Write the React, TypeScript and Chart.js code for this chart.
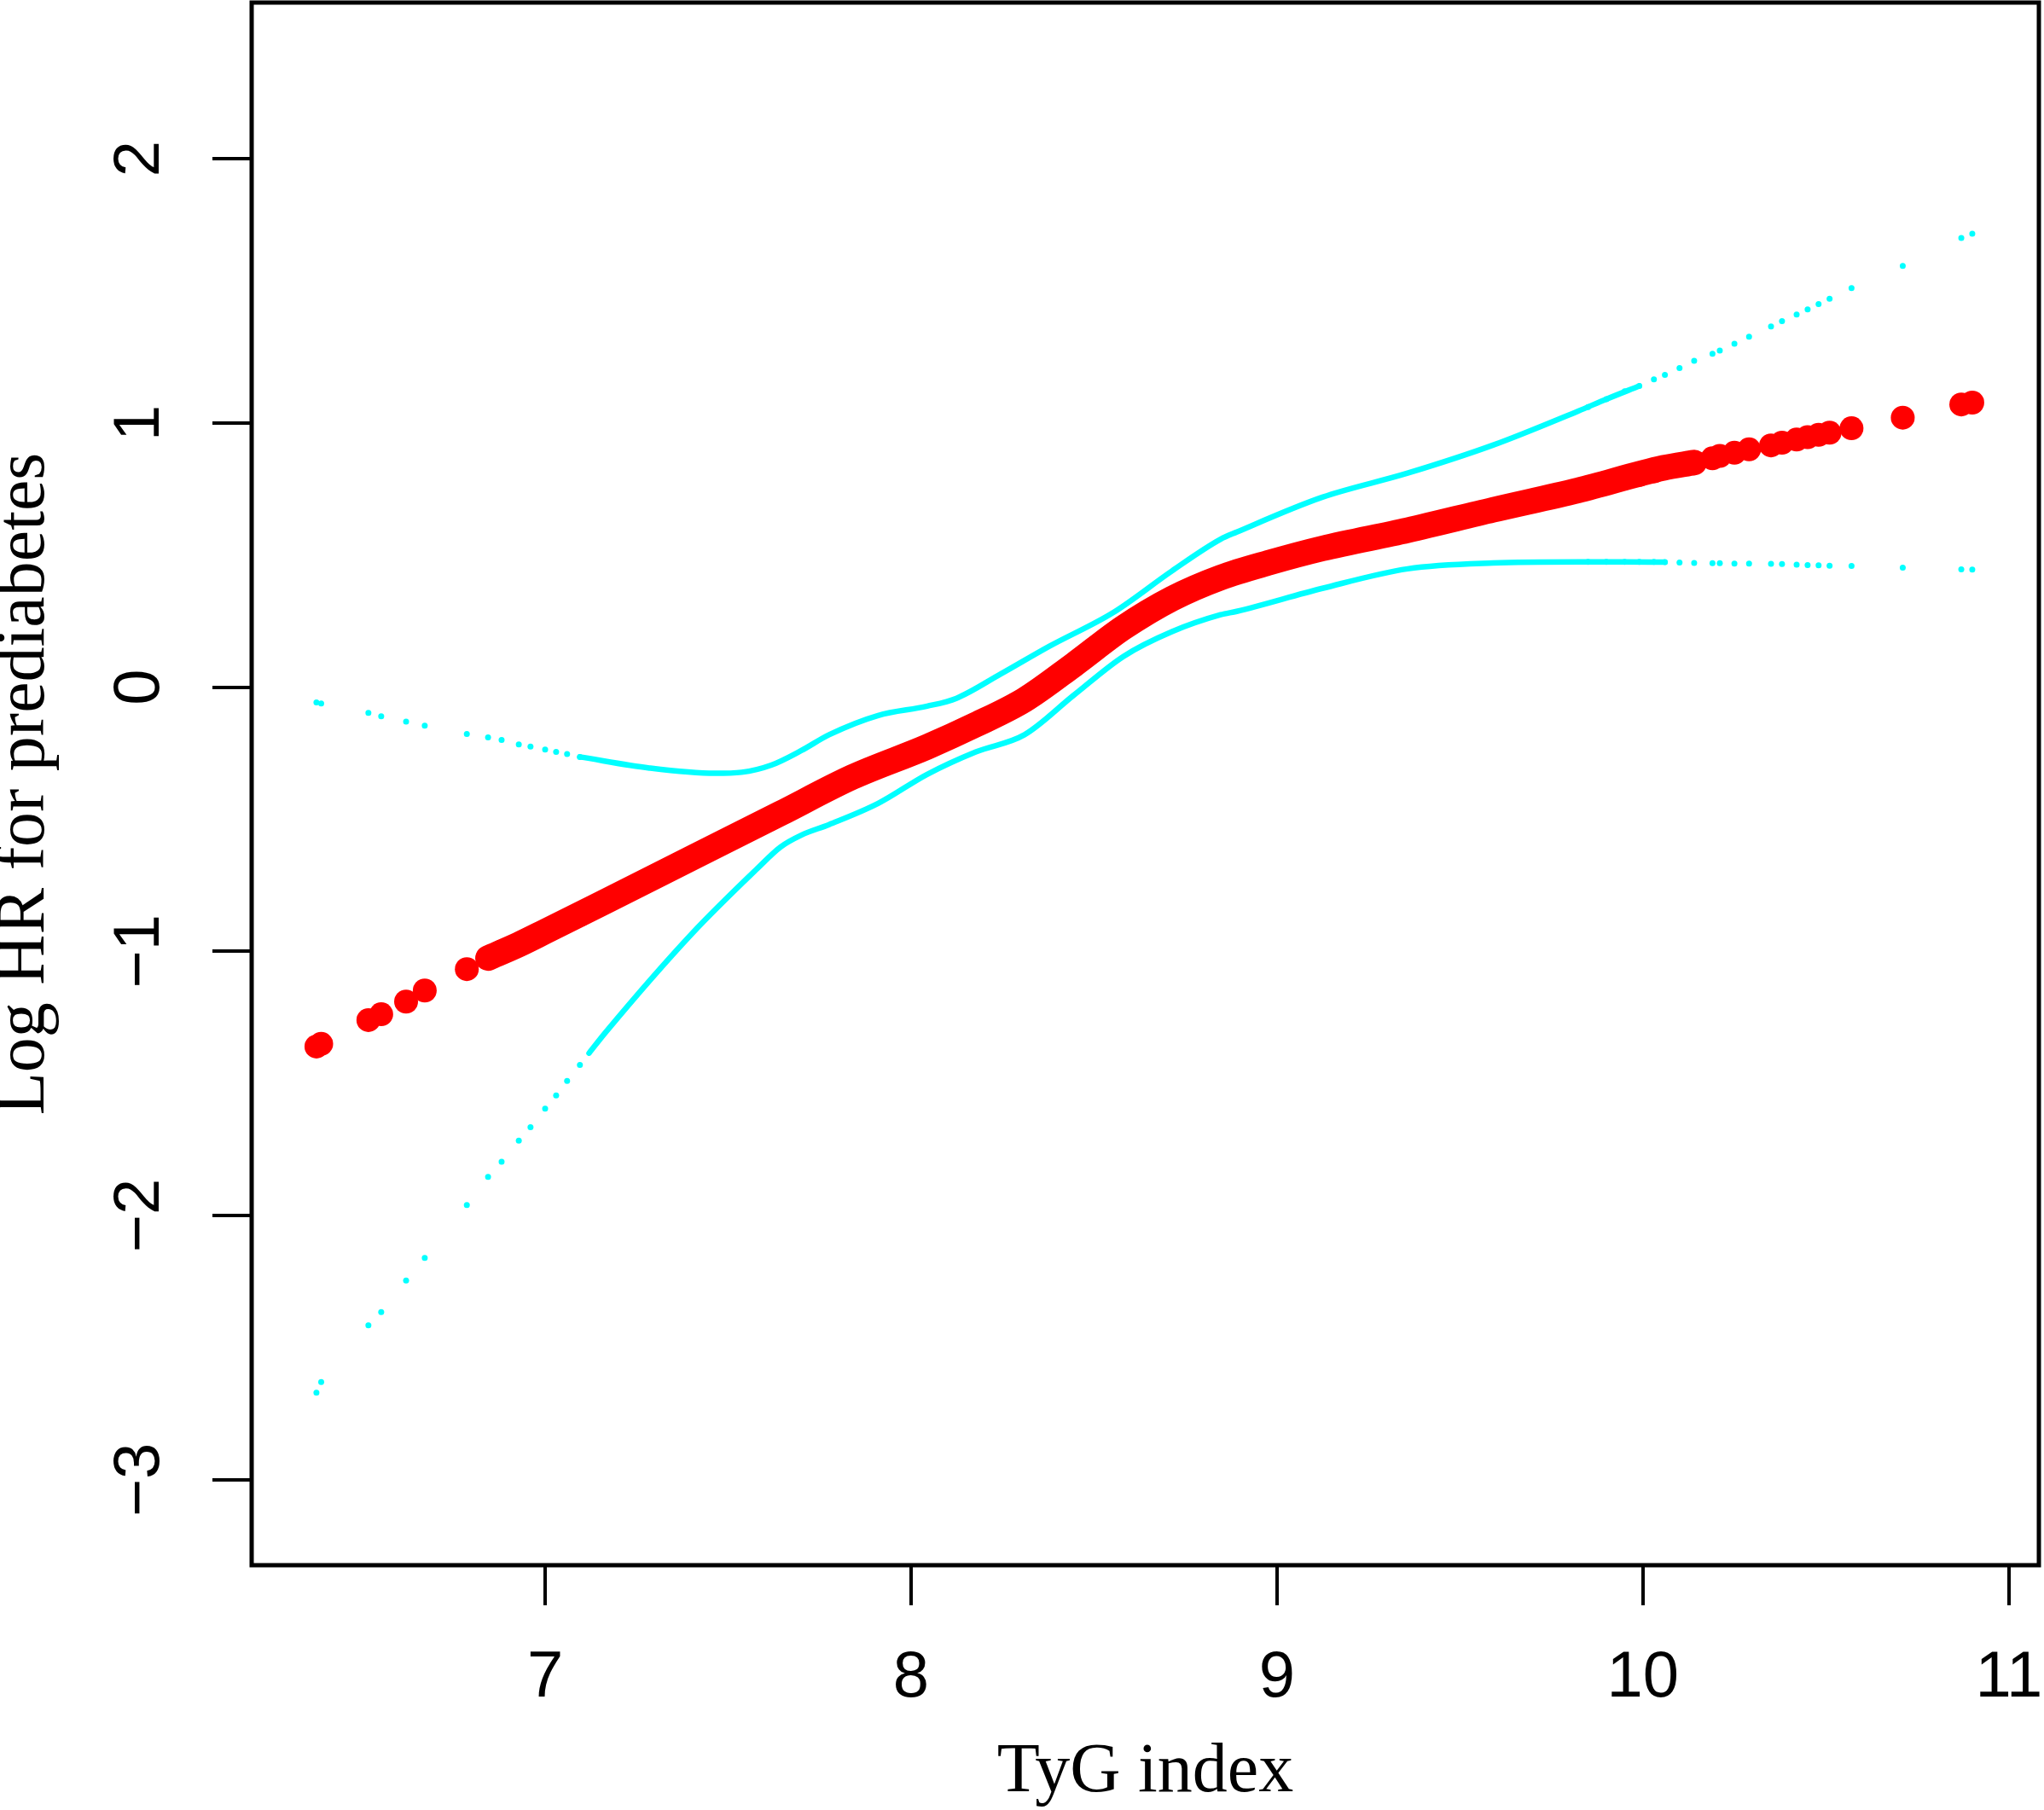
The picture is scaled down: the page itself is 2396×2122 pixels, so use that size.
import React, { useEffect, useRef } from 'react';
import { Chart, registerables } from 'chart.js';

Chart.register(...registerables);

const W = 2396;
const H = 2122;

// Axis ranges and tick labels
const xRange = [6.198, 11.082];
const yRange = [-3.323, 2.591];
const xTicks = [7, 8, 9, 10, 11];
const yTicks = [-3, -2, -1, 0, 1, 2];

const xTitle = 'TyG index';
const yTitle = 'Log HR for prediabetes';

// Dense part of the fitted log HR curve (TyG, log HR)
const hrCurveX = [6.844, 6.928, 7.0, 7.166, 7.403, 7.643, 7.84, 8.044, 8.177, 8.31, 8.445, 8.58, 8.713, 8.846, 8.98, 9.124, 9.357, 9.59, 9.823, 10.056, 10.14];
const hrCurveY = [-1.025, -0.974, -0.925, -0.81, -0.645, -0.478, -0.34, -0.226, -0.142, -0.048, 0.085, 0.225, 0.335, 0.415, 0.472, 0.525, 0.594, 0.671, 0.745, 0.83, 0.85];

// Dense part of the upper 95% CI
const upperCurveX = [7.095, 7.285, 7.464, 7.537, 7.618, 7.7, 7.776, 7.91, 8.044, 8.124, 8.245, 8.378, 8.553, 8.713, 8.846, 8.89, 9.124, 9.357, 9.59, 9.823, 9.9, 9.99];
const upperCurveY = [-0.264, -0.306, -0.326, -0.322, -0.295, -0.24, -0.18, -0.107, -0.072, -0.042, 0.05, 0.155, 0.283, 0.44, 0.56, 0.587, 0.719, 0.81, 0.916, 1.045, 1.09, 1.14];

// Dense part of the lower 95% CI
const lowerCurveX = [7.12, 7.166, 7.403, 7.58, 7.643, 7.7, 7.776, 7.91, 8.044, 8.177, 8.31, 8.445, 8.58, 8.713, 8.846, 8.89, 9.124, 9.357, 9.59, 9.823, 9.95, 10.06];
const lowerCurveY = [-1.385, -1.305, -0.93, -0.686, -0.605, -0.56, -0.52, -0.44, -0.33, -0.245, -0.18, -0.03, 0.116, 0.21, 0.274, 0.287, 0.374, 0.448, 0.47, 0.474, 0.474, 0.473];

// Sparse observations at the tails (shared TyG values)
const tygSparse = [6.375, 6.388, 6.517, 6.552, 6.62, 6.671, 6.786, 6.844, 6.881, 6.928, 6.96, 7.0, 7.03, 7.06, 7.095,
  9.85, 9.9, 9.95, 9.99, 10.03, 10.06, 10.1, 10.14, 10.19, 10.21, 10.25, 10.29, 10.35, 10.38, 10.42, 10.45, 10.48, 10.51, 10.57, 10.71, 10.87, 10.9];
const hrSparse = [-1.36, -1.35, -1.26, -1.238, -1.19, -1.148, -1.067, -1.025, -1.0, -0.974, -0.952, -0.925, -0.905, -0.884, -0.862,
  0.756, 0.773, 0.79, 0.803, 0.817, 0.83, 0.84, 0.85, 0.866, 0.875, 0.887, 0.9, 0.915, 0.925, 0.937, 0.946, 0.955, 0.963, 0.98, 1.02, 1.07, 1.077];
const upperSparse = [-0.058, -0.062, -0.097, -0.11, -0.13, -0.146, -0.177, -0.19, -0.2, -0.217, -0.225, -0.236, -0.245, -0.253, -0.264,
  1.06, 1.09, 1.12, 1.14, 1.165, 1.182, 1.208, 1.235, 1.262, 1.274, 1.3, 1.326, 1.365, 1.385, 1.41, 1.43, 1.45, 1.47, 1.51, 1.594, 1.7, 1.716];
const lowerSparse = [-2.67, -2.63, -2.415, -2.365, -2.246, -2.16, -1.96, -1.853, -1.796, -1.716, -1.665, -1.595, -1.545, -1.49, -1.43,
  0.474, 0.474, 0.474, 0.474, 0.474, 0.473, 0.472, 0.47, 0.469, 0.469, 0.468, 0.468, 0.467, 0.466, 0.464, 0.462, 0.461, 0.46, 0.459, 0.452, 0.446, 0.445];

const RED = '#ff0000';
const CYAN = '#00ffff';

const pts = (xs: number[], ys: number[]) => xs.map((x, i) => ({ x, y: ys[i] }));

const framePlugin = {
  id: 'frameBox',
  afterDatasetsDraw(chart: any) {
    const { ctx, chartArea: a } = chart;
    ctx.save();
    ctx.strokeStyle = '#000';
    ctx.lineWidth = 5;
    ctx.strokeRect(a.left, a.top, a.right - a.left, a.bottom - a.top);
    ctx.restore();
  },
};

export default function App() {
  const ref = useRef<HTMLCanvasElement | null>(null);

  useEffect(() => {
    document.body.style.margin = '0';
    document.body.style.background = '#ffffff';
    const canvas = ref.current;
    if (!canvas) return;

    const lineDs = (label: string, data: any[], color: string, width: number) => ({
      label,
      data,
      showLine: true,
      borderColor: color,
      backgroundColor: color,
      borderWidth: width,
      borderCapStyle: 'round',
      borderJoinStyle: 'round',
      cubicInterpolationMode: 'monotone',
      pointRadius: 0,
      pointHoverRadius: 0,
      fill: false,
    });
    const dotDs = (label: string, data: any[], color: string, r: number) => ({
      label,
      data,
      showLine: false,
      borderColor: color,
      backgroundColor: color,
      borderWidth: 0,
      pointRadius: r,
      pointHoverRadius: r,
      pointStyle: 'circle',
    });

    const chart = new Chart(canvas, {
      type: 'scatter',
      data: {
        datasets: [
          lineDs('Log HR', pts(hrCurveX, hrCurveY), RED, 30) as any,
          dotDs('Log HR points', pts(tygSparse, hrSparse), RED, 14) as any,
          lineDs('Upper CI', pts(upperCurveX, upperCurveY), CYAN, 6.5) as any,
          dotDs('Upper CI points', pts(tygSparse, upperSparse), CYAN, 3.5) as any,
          lineDs('Lower CI', pts(lowerCurveX, lowerCurveY), CYAN, 6.5) as any,
          dotDs('Lower CI points', pts(tygSparse, lowerSparse), CYAN, 3.5) as any,
        ],
      },
      options: {
        animation: false,
        responsive: false,
        devicePixelRatio: 1,
        layout: { autoPadding: false, padding: { top: 3, right: 6, left: 0, bottom: 0 } },
        plugins: {
          legend: { display: false },
          tooltip: { enabled: false },
        },
        scales: {
          x: {
            type: 'linear',
            min: xRange[0],
            max: xRange[1],
            afterBuildTicks: (scale: any) => {
              scale.ticks = xTicks.map((v) => ({ value: v }));
            },
            afterFit: (scale: any) => {
              scale.height = 287;
              scale.paddingLeft = 0;
              scale.paddingRight = 0;
            },
            border: { display: false },
            grid: {
              drawOnChartArea: false,
              drawTicks: true,
              tickLength: 47,
              tickWidth: 4,
              tickColor: '#000',
              color: '#000',
              lineWidth: 4,
            },
            ticks: {
              autoSkip: false,
              maxRotation: 0,
              minRotation: 0,
              padding: 40,
              color: '#000',
              font: { family: "'Liberation Sans', Arial, sans-serif", size: 76 },
              callback: (v: any) => String(v),
            },
            title: {
              display: true,
              text: xTitle,
              color: '#000',
              font: { family: "'Liberation Serif', 'Times New Roman', serif", size: 82, lineHeight: 1 },
              padding: { top: 0, bottom: 3 },
            },
          },
          y: {
            type: 'linear',
            min: yRange[0],
            max: yRange[1],
            afterBuildTicks: (scale: any) => {
              scale.ticks = yTicks.map((v) => ({ value: v }));
            },
            afterFit: (scale: any) => {
              scale.width = 295;
              scale.paddingTop = 0;
              scale.paddingBottom = 0;
            },
            border: { display: false },
            grid: {
              drawOnChartArea: false,
              drawTicks: true,
              tickLength: 46,
              tickWidth: 4,
              tickColor: '#000',
              color: '#000',
              lineWidth: 4,
            },
            ticks: {
              autoSkip: false,
              minRotation: 90,
              maxRotation: 90,
              crossAlign: 'center',
              padding: 41,
              color: '#000',
              font: { family: "'Liberation Sans', Arial, sans-serif", size: 76 },
              callback: (v: any) => (v < 0 ? '\u2212' + Math.abs(v) : String(v)),
            },
            title: {
              display: true,
              text: yTitle,
              color: '#000',
              font: { family: "'Liberation Serif', 'Times New Roman', serif", size: 82, lineHeight: 0.73 },
              padding: { top: 0, bottom: 0 },
            },
          },
        },
      } as any,
      plugins: [framePlugin],
    });

    return () => {
      chart.destroy();
    };
  }, []);

  return (
    <div style={{ width: W, height: H, background: '#fff' }}>
      <canvas ref={ref} width={W} height={H} style={{ display: 'block', width: W, height: H }} />
    </div>
  );
}
